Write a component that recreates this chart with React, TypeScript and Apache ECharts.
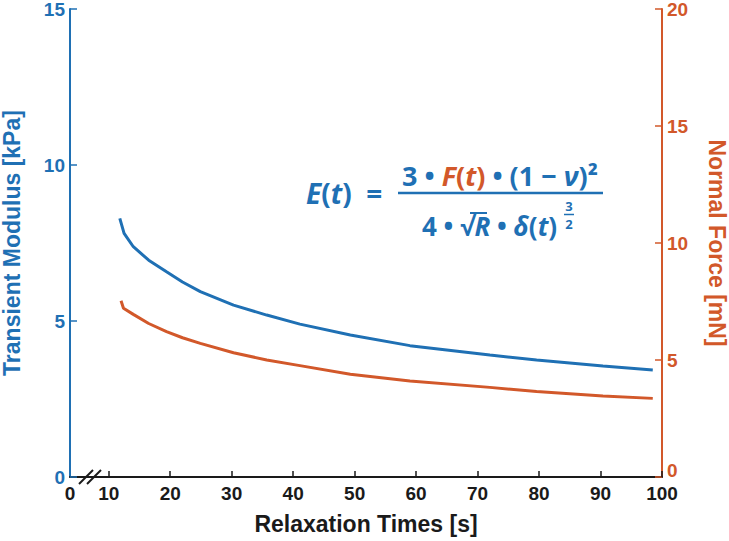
import React, { useEffect, useRef } from "react";
import * as echarts from "echarts";

const BLUE = "#1f70b4";
const ORANGE = "#d2582a";
const DARK = "#1a1a1a";

// Relaxation time [s]
const modulusTimes = [11.8, 12.5, 14.0, 16.5, 19.4, 22.0, 24.9, 30.3, 35.7, 41.1, 49.3, 59.0, 72.0, 79.6, 90.4, 98.5];
// Transient modulus [kPa]
const modulusValues = [8.29, 7.81, 7.38, 6.95, 6.58, 6.25, 5.94, 5.51, 5.19, 4.9, 4.55, 4.21, 3.91, 3.75, 3.56, 3.43];

const forceTimes = [12.0, 12.4, 14.0, 16.5, 19.4, 22.0, 24.9, 30.3, 35.7, 41.1, 49.3, 59.0, 72.0, 79.6, 90.4, 98.5];
// Normal force [mN]
const forceValues = [7.53, 7.21, 6.95, 6.56, 6.21, 5.95, 5.71, 5.31, 5.0, 4.76, 4.39, 4.1, 3.83, 3.65, 3.46, 3.36];

const xTickValues = [10, 20, 30, 40, 50, 60, 70, 80, 90, 100];
const X_MIN = 3.7;
const X_MAX = 100;

export default function App() {
  const ref = useRef<HTMLDivElement>(null);

  useEffect(() => {
    if (!ref.current) return;
    const chart = echarts.init(ref.current, null, { renderer: "svg" });
    const labelFont = "Liberation Sans";
    const mathFont = "Open Sans";

    const option: any = {
      animation: false,
      backgroundColor: "#ffffff",
      grid: { left: 70, right: 67, top: 9, bottom: 64, containLabel: false, outerBoundsMode: "none" },
      xAxis: {
        type: "value",
        min: X_MIN,
        max: X_MAX,
        name: "Relaxation Times [s]",
        nameLocation: "middle",
        nameGap: 35,
        nameTextStyle: { color: DARK, fontFamily: labelFont, fontWeight: "bold", fontSize: 23 },
        axisLine: { show: true, lineStyle: { color: DARK, width: 2 } },
        axisTick: { show: true, inside: true, length: 6, lineStyle: { color: DARK, width: 1.5 }, customValues: xTickValues },
        axisLabel: {
          color: DARK,
          fontFamily: labelFont,
          fontWeight: "bold",
          fontSize: 19,
          margin: 7,
          customValues: [X_MIN, ...xTickValues],
          formatter: (v: number) => (v < 5 ? "0" : String(Math.round(v))),
        },
        splitLine: { show: false },
      },
      yAxis: [
        {
          type: "value",
          min: 0,
          max: 15,
          interval: 5,
          position: "left",
          name: "Transient Modulus [kPa]",
          nameLocation: "middle",
          nameGap: 47,
          nameTextStyle: { color: BLUE, fontFamily: labelFont, fontWeight: "bold", fontSize: 23 },
          axisLine: { show: true, lineStyle: { color: BLUE, width: 2 } },
          axisTick: { show: true, inside: true, length: 7, lineStyle: { color: BLUE, width: 1.5 } },
          axisLabel: { color: BLUE, fontFamily: labelFont, fontWeight: "bold", fontSize: 19, margin: 5 },
          splitLine: { show: false },
        },
        {
          type: "value",
          min: 0,
          max: 20,
          interval: 5,
          position: "right",
          name: "Normal Force [mN]",
          nameLocation: "middle",
          nameRotate: -90,
          nameGap: 43,
          nameTextStyle: { color: ORANGE, fontFamily: labelFont, fontWeight: "bold", fontSize: 23 },
          axisLine: { show: true, lineStyle: { color: ORANGE, width: 2 } },
          axisTick: { show: true, inside: true, length: 7, lineStyle: { color: ORANGE, width: 1.5 } },
          axisLabel: {
            color: ORANGE,
            fontFamily: labelFont,
            fontWeight: "bold",
            fontSize: 19,
            margin: 5,
            formatter: (v: number) => (v === 0 ? "{z|0}" : String(v)),
            rich: {
              z: { color: ORANGE, fontFamily: labelFont, fontWeight: "bold", fontSize: 19, padding: [0, 0, 14, 0] },
            },
          },
          splitLine: { show: false },
        },
      ],
      series: [
        {
          name: "Transient Modulus",
          type: "line",
          yAxisIndex: 0,
          data: modulusTimes.map((t, i) => [t, modulusValues[i]]),
          showSymbol: false,
          smooth: false,
          lineStyle: { color: BLUE, width: 3 },
          itemStyle: { color: BLUE },
        },
        {
          name: "Normal Force",
          type: "line",
          yAxisIndex: 1,
          data: forceTimes.map((t, i) => [t, forceValues[i]]),
          showSymbol: false,
          smooth: false,
          lineStyle: { color: ORANGE, width: 3 },
          itemStyle: { color: ORANGE },
        },
      ],
      graphic: [
        // axis break marks
        { type: "line", shape: { x1: 79, y1: 484, x2: 93, y2: 470 }, style: { stroke: DARK, lineWidth: 2 } },
        { type: "line", shape: { x1: 87, y1: 484, x2: 101, y2: 470 }, style: { stroke: DARK, lineWidth: 2 } },
        // formula: E(t) =
        {
          type: "text",
          x: 306,
          y: 193,
          style: {
            text: "{i|E}({i|t})  =",
            fill: BLUE,
            font: `bold 28px "${mathFont}"`,
            verticalAlign: "middle",
            align: "left",
            rich: {
              i: { fontStyle: "italic", fontWeight: "bold", fontSize: 28, fontFamily: mathFont, fill: BLUE },
            },
          },
        },
        // numerator
        {
          type: "text",
          x: 500,
          y: 175,
          style: {
            text: "3 • {o|F}{oo|(}{o|t}{oo|)} • (1 − {i|ν})²",
            fill: BLUE,
            font: `bold 27px "${mathFont}"`,
            verticalAlign: "middle",
            align: "center",
            rich: {
              i: { fontStyle: "italic", fontWeight: "bold", fontSize: 27, fontFamily: mathFont, fill: BLUE },
              o: { fontStyle: "italic", fontWeight: "bold", fontSize: 27, fontFamily: mathFont, fill: ORANGE },
              oo: { fontWeight: "bold", fontSize: 27, fontFamily: mathFont, fill: ORANGE },
            },
          },
        },
        // fraction bar
        { type: "line", shape: { x1: 398, y1: 193, x2: 603, y2: 193 }, style: { stroke: BLUE, lineWidth: 2.5 } },
        // denominator
        {
          type: "text",
          x: 422,
          y: 226,
          style: {
            text: "4 • √{i|R} • {i|δ}({i|t})",
            fill: BLUE,
            font: `bold 26px "${mathFont}"`,
            verticalAlign: "middle",
            align: "left",
            rich: {
              i: { fontStyle: "italic", fontWeight: "bold", fontSize: 26, fontFamily: mathFont, fill: BLUE },
            },
          },
        },
        // overline of the square root
        { type: "line", shape: { x1: 470, y1: 213, x2: 487, y2: 213 }, style: { stroke: BLUE, lineWidth: 2 } },
        // exponent 3/2
        {
          type: "text",
          x: 569,
          y: 212,
          style: { text: "3", fill: BLUE, font: `bold 13px "${mathFont}"`, align: "center", verticalAlign: "bottom" },
        },
        { type: "line", shape: { x1: 564, y1: 214.5, x2: 574, y2: 214.5 }, style: { stroke: BLUE, lineWidth: 1.5 } },
        {
          type: "text",
          x: 569,
          y: 217,
          style: { text: "2", fill: BLUE, font: `bold 13px "${mathFont}"`, align: "center", verticalAlign: "top" },
        },
      ],
    };

    chart.setOption(option);
    return () => chart.dispose();
  }, []);

  return (
    <div
      ref={ref}
      style={{ position: "fixed", left: 0, top: 0, width: 729, height: 541, background: "#fff" }}
    />
  );
}
